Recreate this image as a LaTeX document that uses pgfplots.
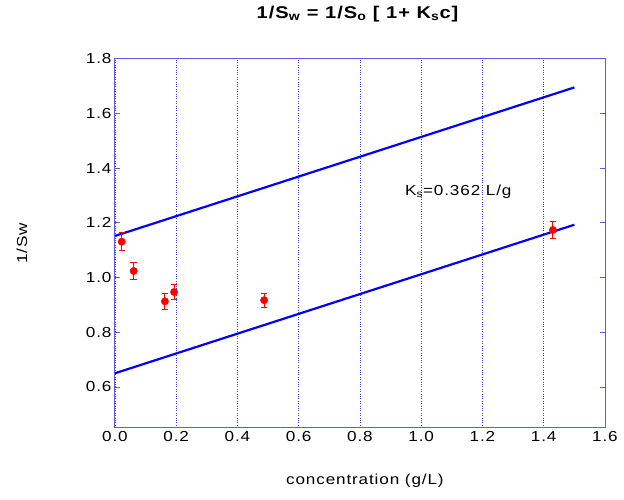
\documentclass[border=0pt]{standalone}
\usepackage{pgfplots}
\pgfplotsset{compat=1.18}
\usepackage{fontspec}
\setmainfont{Liberation Sans}[FakeStretch=1.18, LetterSpace=6]
\definecolor{axblue}{RGB}{90,90,235}
\definecolor{gridblue}{RGB}{60,60,225}
\begin{document}
\begin{tikzpicture}[x=1pt,y=1pt]
\begin{axis}[
  at={(0,0)}, anchor=south west,
  scale only axis, width=490pt, height=369pt,
  xmin=0, xmax=1.6, ymin=0.451, ymax=1.8,
  xtick={0,0.2,...,1.6}, ytick={0.6,0.8,...,1.8},
  xticklabel style={/pgf/number format/.cd,fixed,fixed zerofill,precision=1},
  yticklabel style={/pgf/number format/.cd,fixed,fixed zerofill,precision=1},
  /pgf/number format/assume math mode=true,
  tick label style={font=\fontsize{14.5}{16}\selectfont},
  axis line style={axblue, line width=1pt},
  tick style={axblue, line width=0.8pt},
  major tick length=5pt,
  xtick style={draw=none},
  xmajorgrids, ymajorgrids=false,
  major grid style={gridblue, dotted, line width=0.55pt},
  tick pos=both,
  xlabel={concentration (g/L)},
  ylabel={1/Sw},
  label style={font=\fontsize{14.5}{16}\selectfont},
  xlabel style={at={(axis description cs:0.51,-0.1445)}, anchor=center},
  ylabel style={at={(axis description cs:-0.19,0.5)}, anchor=center},
  title={\textbf{1/S\textsubscript{w} = 1/S\textsubscript{o} [ 1+ K\textsubscript{s}c]}},
  title style={font=\fontsize{17}{19}\selectfont, at={(axis description cs:0.496,1.105)}, anchor=center},
  clip=false,
]
\addplot[blue, line width=2.2pt] coordinates {(0,1.152) (1.5,1.695)};
\addplot[blue, line width=2.2pt] coordinates {(0,0.650) (1.5,1.193)};
\addplot[red, only marks, mark=*, mark size=3.7pt,
  error bars/.cd, y dir=both, y explicit,
  error bar style={red, line width=0.9pt},
  error mark options={rotate=90, mark size=3.2pt, red, line width=0.9pt}]
  coordinates {
  (0.022,1.131) +- (0,0.032)
  (0.061,1.024) +- (0,0.032)
  (0.163,0.913) +- (0,0.028)
  (0.193,0.947) +- (0,0.028)
  (0.487,0.917) +- (0,0.025)
  (1.430,1.174) +- (0,0.032)
  };
\node[anchor=west, inner sep=0pt, font=\fontsize{14.5}{16}\selectfont] at (axis cs:0.947,1.313) {K\textsubscript{s}=0.362 L/g};
\end{axis}
\path[use as bounding box] (-115,-72.3) rectangle (509,427.7);
\end{tikzpicture}
\end{document}
